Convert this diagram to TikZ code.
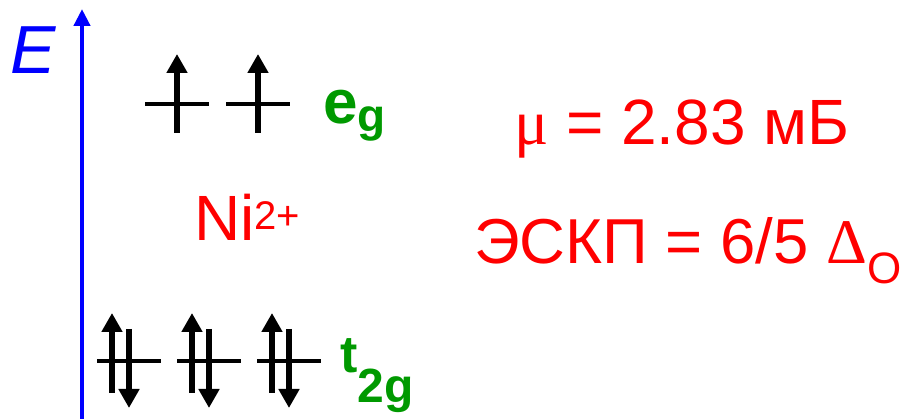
\documentclass[tikz,border=0pt]{standalone}
\usepackage{fontspec}
\setmainfont{Liberation Sans}
\newfontfamily\serifgr{Liberation Serif}
\usetikzlibrary{arrows.meta}
\definecolor{axisblue}{RGB}{0,0,255}
\definecolor{lblgreen}{RGB}{0,153,0}
\definecolor{txtred}{RGB}{255,0,0}
\tikzset{
  lvl/.style={line width=4.5pt},
  spin/.style={line width=5.5pt,-{Triangle[length=19pt,width=20pt]}},
  txt/.style={anchor=base west,inner sep=0pt,outer sep=0pt},
}
\begin{document}
\begin{tikzpicture}[x=1pt,y=-1pt]
\useasboundingbox (0,0) rectangle (905,419);
% energy axis
\coordinate (axb) at (82,419);
\coordinate (axt) at (82,9);
\draw[axisblue,line width=4.5pt,-{Triangle[length=17pt,width=16pt]}] (axb) -- (axt);
\node[txt,text=axisblue,font=\fontsize{68}{74}\selectfont\itshape] (E) at (10,74) {E};
% e_g levels
\foreach \c/\n in {177/a,258/b}{
  \coordinate (eL\n) at (\c-32,104);
  \coordinate (eR\n) at (\c+32,104);
  \draw[lvl] (eL\n) -- (eR\n);
  \coordinate (eu0\n) at (\c,133);
  \coordinate (eu1\n) at (\c,54);
  \draw[spin] (eu0\n) -- (eu1\n);
}
\node[txt,text=lblgreen,font=\fontsize{62}{70}\selectfont\bfseries] (eg) at (323,124)
  {e\raisebox{-8pt}{\fontsize{46}{50}\selectfont g}};
% t_2g levels
\foreach \c/\n in {129/a,209/b,289/c}{
  \coordinate (tL\n) at (\c-32,361);
  \coordinate (tR\n) at (\c+32,361);
  \draw[lvl] (tL\n) -- (tR\n);
  \coordinate (tu0\n) at (\c-17,393);
  \coordinate (tu1\n) at (\c-17,313);
  \draw[spin] (tu0\n) -- (tu1\n);
  \coordinate (td0\n) at (\c,329);
  \coordinate (td1\n) at (\c,408);
  \draw[spin] (td0\n) -- (td1\n);
}
\node[txt,text=lblgreen,font=\fontsize{52}{60}\selectfont\bfseries] (t2g) at (340,373)
  {t\raisebox{-30pt}{\fontsize{48}{50}\selectfont 2g}};
% ion
\node[txt,text=txtred,font=\fontsize{64}{70}\selectfont] (ion) at (194,241)
  {Ni\raisebox{11pt}{\fontsize{40}{44}\selectfont 2+}};
% properties
\node[txt,text=txtred,font=\fontsize{64}{70}\selectfont] (mu) at (514,145)
  {{\serifgr μ} = 2.83 мБ};
\node[txt,text=txtred,font=\fontsize{63.5}{70}\selectfont] (cfse) at (474,264)
  {ЭСКП = 6/5 {\serifgr Δ}\raisebox{-20pt}{\fontsize{44}{48}\selectfont O}};
\end{tikzpicture}
\end{document}
